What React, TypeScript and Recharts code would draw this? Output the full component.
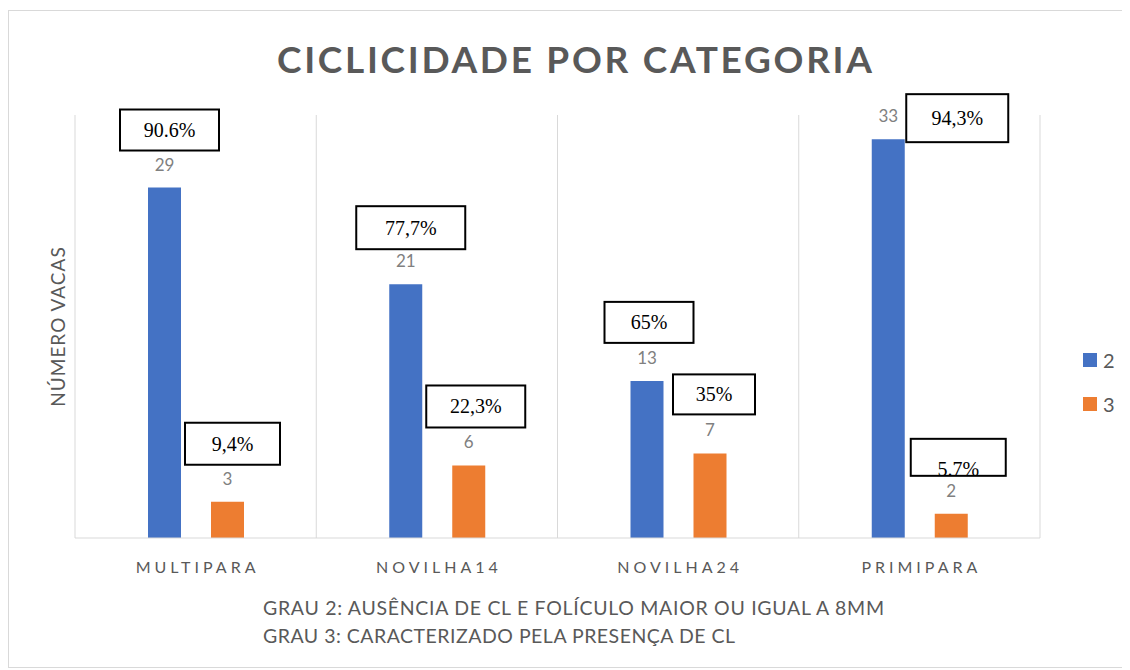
import React from "react";
import { BarChart, Bar, XAxis, YAxis, CartesianGrid, Legend, LabelList } from "recharts";

const categorias = ["MULTIPARA", "NOVILHA14", "NOVILHA24", "PRIMIPARA"];
const grau2 = [29, 21, 13, 33];
const grau3 = [3, 6, 7, 2];
const pct2 = ["90.6%", "77,7%", "65%", "94,3%"];
const pct3 = ["9,4%", "22,3%", "35%", "5.7%"];
const notas = [
  "GRAU 2: AUSÊNCIA DE CL E FOLÍCULO MAIOR OU IGUAL A 8MM",
  "GRAU 3: CARACTERIZADO PELA PRESENÇA DE CL",
];

const data = categorias.map((c, i) => ({
  categoria: c,
  g2: grau2[i],
  g3: grau3[i],
  p2: pct2[i],
  p3: pct3[i],
}));

// caixas das percentagens: [largura, altura, desvio x, distancia acima da barra, desvio do texto]
const caixas2 = [
  [99, 41, 5, 37, 0],
  [109, 43, 5, 35, 0],
  [89, 41, 2, 38, 0],
  [102, 48, 69, -3, 0],
];
const caixas3 = [
  [95, 42, 5, 37, 0],
  [99, 42, 7, 38, 0],
  [82, 40, 4, 39, 0],
  [95, 37, 7, 38, 12],
];

const cinza = "#595959";
const grade = "#d9d9d9";

const caixa = (layout: number[][], prefixo: string) => (props: any) => {
  const vb = props.viewBox || props;
  const { x, y, width } = vb;
  const [w, h, dx, gap, tdy] = layout[props.index];
  const cx = x + width / 2 + dx;
  const top = y - gap - h;
  const id = `${prefixo}-${props.index}`;
  return (
    <g>
      <defs>
        <clipPath id={id}>
          <rect x={cx - w / 2} y={top} width={w} height={h} />
        </clipPath>
      </defs>
      <rect x={cx - w / 2} y={top} width={w} height={h} fill="#fff" stroke="#000" strokeWidth={2} />
      <text
        x={cx}
        y={top + h / 2 + 7 + tdy}
        textAnchor="middle"
        fontFamily="Liberation Serif"
        fontSize={20}
        fill="#000"
        clipPath={`url(#${id})`}
      >
        {props.value}
      </text>
    </g>
  );
};

const Tick = ({ x, y, payload }: any) => (
  <text x={x + 2} y={y + 35} textAnchor="middle" fontFamily="Lato" fontSize={16} letterSpacing={4} fill={cinza}>
    {payload.value}
  </text>
);

const Legenda = ({ payload }: any) => (
  <div>
    {(payload || []).map((p: any) => (
      <div key={p.value} style={{ display: "flex", alignItems: "center", height: 44 }}>
        <span style={{ width: 14, height: 14, background: p.color, marginRight: 6 }} />
        <span style={{ fontFamily: "Lato", fontSize: 20, color: cinza }}>{p.value}</span>
      </div>
    ))}
  </div>
);

const App = () => {
  return (
    <div
      style={{
        marginTop: 2,
        width: 1115,
        height: 656,
        border: `1px solid ${grade}`,
        position: "relative",
        background: "#fff",
      }}
    >
      <BarChart
        width={1115}
        height={656}
        data={data}
        margin={{ top: 104, right: 84, bottom: 99, left: 0 }}
        barSize={33}
        barGap={30}
      >
        <CartesianGrid
          horizontal={false}
          stroke={grade}
          verticalCoordinatesGenerator={({ offset }: any) =>
            [0, 1, 2, 3, 4].map((i) => offset.left + (i * offset.width) / 4)
          }
        />
        <XAxis
          dataKey="categoria"
          tickLine={false}
          tickSize={0}
          tickMargin={0}
          stroke={grade}
          tick={<Tick />}
        />
        <YAxis
          width={66}
          domain={[0, 35]}
          ticks={[0, 35]}
          tick={false}
          axisLine={false}
          tickLine={false}
          label={{
            content: (p: any) => {
              const vb = p.viewBox;
              return (
                <text
                  transform={`translate(56, ${vb.y + vb.height / 2}) rotate(-90)`}
                  textAnchor="middle"
                  fontFamily="Lato"
                  fontSize={19}
                  letterSpacing={1}
                  fill={cinza}
                >
                  NÚMERO VACAS
                </text>
              );
            },
          }}
        />
        <Legend
          layout="horizontal"
          align="center"
          verticalAlign="middle"
          wrapperStyle={{ left: 1074, top: 327, width: 40 }}
          content={<Legenda />}
        />
        <Bar dataKey="g2" name="2" fill="#4472C4" isAnimationActive={false}>
          <LabelList dataKey="g2" position="top" offset={17} fill="#808080" fontSize={17} fontFamily="Lato" />
          <LabelList dataKey="p2" content={caixa(caixas2, "c2")} />
        </Bar>
        <Bar dataKey="g3" name="3" fill="#ED7D31" isAnimationActive={false}>
          <LabelList dataKey="g3" position="top" offset={17} fill="#808080" fontSize={17} fontFamily="Lato" />
          <LabelList dataKey="p3" content={caixa(caixas3, "c3")} />
        </Bar>
      </BarChart>
      <svg
        width={1115}
        height={656}
        style={{ position: "absolute", left: 0, top: 0, pointerEvents: "none" }}
      >
        <text
          x={565.5}
          y={62}
          textAnchor="middle"
          fontFamily="Lato"
          fontWeight={700}
          fontSize={37}
          textLength={595}
          lengthAdjust="spacing"
          fill={cinza}
        >
          CICLICIDADE POR CATEGORIA
        </text>
        <text x={254} y={604} fontFamily="Lato" fontSize={19.5} textLength={621} lengthAdjust="spacing" fill={cinza}>
          {notas[0]}
        </text>
        <text x={254} y={632} fontFamily="Lato" fontSize={19.5} textLength={472} lengthAdjust="spacing" fill={cinza}>
          {notas[1]}
        </text>
      </svg>
    </div>
  );
};

export default App;
